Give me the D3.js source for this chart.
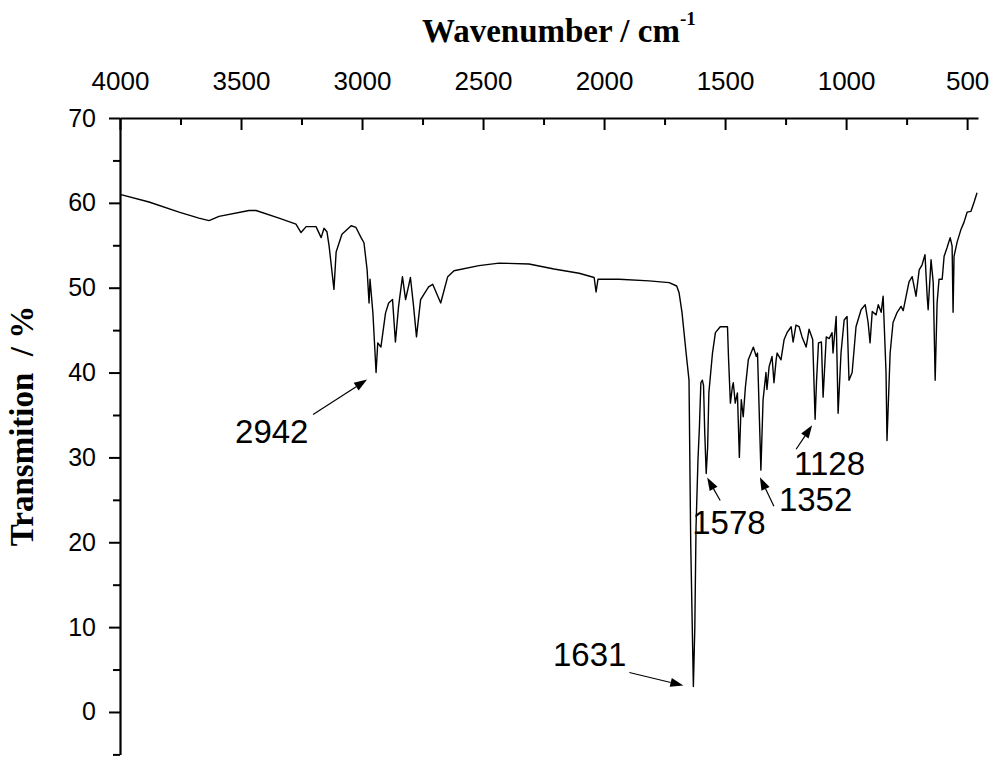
<!DOCTYPE html>
<html>
<head>
<meta charset="utf-8">
<script src="https://cdn.jsdelivr.net/npm/d3@7"></script>
<style>
  html, body { margin: 0; padding: 0; background: #fff; }
  svg { display: block; }
</style>
</head>
<body>
<svg id="chart" width="1000" height="764"></svg>
<script>
// ---- data ----
const wavenumbers = [
  4000, 3880, 3756, 3674, 3632, 3591, 3467, 3438, 3343, 3273, 3252, 3231, 3190, 3169, 3157, 3145, 3136, 3116, 3107, 3083,
  3045, 3025, 3004, 2992, 2979, 2971, 2967, 2955, 2942, 2935, 2922, 2903, 2890, 2874, 2862, 2849, 2833, 2820, 2800, 2787,
  2775, 2758, 2725, 2708, 2675, 2646, 2620, 2517, 2434, 2310, 2207, 2103, 2041, 2033, 2025, 1938, 1814, 1731, 1700, 1690,
  1678, 1661, 1649, 1642, 1631, 1625, 1620, 1612, 1606, 1600, 1594, 1589, 1584, 1578, 1572, 1567, 1552, 1540, 1520, 1490,
  1486, 1478, 1470, 1466, 1458, 1449, 1441, 1433, 1425, 1416, 1404, 1383, 1371, 1366, 1352, 1343, 1331, 1327, 1318, 1306,
  1298, 1289, 1285, 1269, 1256, 1244, 1227, 1219, 1207, 1194, 1182, 1165, 1153, 1138, 1128, 1122, 1114, 1102, 1095, 1082,
  1070, 1058, 1054, 1041, 1033, 1021, 1008, 996, 988, 975, 959, 938, 921, 909, 901, 892, 876, 867, 855, 847,
  835, 831, 818, 806, 789, 773, 764, 752, 740, 727, 711, 698, 686, 674, 665, 661, 649, 640, 632, 624,
  616, 603, 595, 583, 570, 562, 558, 554, 541, 525, 513, 500, 484, 471, 459
];
const transmission = [
  61.0, 60.1, 58.9, 58.2, 57.9, 58.4, 59.1, 59.1, 58.2, 57.5, 56.5, 57.2, 57.2, 55.9, 57.0, 56.6, 54.9, 49.8, 54.2, 56.3,
  57.3, 57.1, 55.9, 55.3, 52.1, 48.2, 51.0, 47.0, 40.0, 43.5, 43.0, 47.0, 48.2, 48.6, 43.6, 47.8, 51.3, 48.6, 51.2, 47.8,
  44.2, 48.6, 50.1, 50.4, 48.2, 51.3, 52.0, 52.6, 52.9, 52.8, 52.2, 51.7, 51.2, 49.5, 51.0, 51.0, 50.8, 50.6, 50.2, 49.4,
  47.1, 42.3, 39.1, 20.0, 3.0, 10.0, 21.8, 29.7, 33.6, 38.8, 39.1, 38.5, 32.9, 28.1, 31.2, 37.6, 42.3, 44.7, 45.4, 45.4,
  41.9, 36.4, 38.3, 38.8, 36.4, 37.6, 30.0, 36.8, 34.8, 38.3, 41.5, 43.0, 41.9, 42.3, 28.5, 36.8, 40.0, 38.0, 40.7, 41.9,
  38.8, 41.5, 42.3, 41.5, 43.9, 44.7, 45.4, 43.6, 45.6, 45.4, 44.2, 43.0, 45.1, 43.9, 34.5, 39.1, 43.5, 43.6, 37.1, 44.2,
  44.0, 44.7, 42.3, 46.6, 35.2, 42.3, 46.2, 46.6, 39.1, 40.0, 45.4, 47.4, 48.0, 45.9, 43.5, 47.2, 46.8, 48.0, 47.1, 49.0,
  40.0, 32.0, 42.3, 45.9, 47.1, 47.8, 47.3, 49.0, 50.7, 51.3, 49.0, 52.1, 52.7, 53.9, 49.0, 47.4, 53.3, 50.6, 39.1, 48.2,
  51.0, 51.0, 53.7, 54.7, 55.9, 54.9, 47.1, 53.7, 55.4, 56.9, 57.7, 58.9, 59.0, 60.1, 61.2
];
const xTickLabels = [4000, 3500, 3000, 2500, 2000, 1500, 1000, 500];
const xMinorTicks = [3750, 3250, 2750, 2250, 1750, 1250, 750];
const yTickLabels = [0, 10, 20, 30, 40, 50, 60, 70];
const yMinorTicks = [-5, 5, 15, 25, 35, 45, 55, 65];
const peakLabels = ["2942", "1631", "1578", "1352", "1128"];
const peakWavenumbers = [2942, 1631, 1578, 1352, 1128];
const peakValues = [40.0, 3.0, 28.1, 28.5, 34.5];

// ---- drawing ----
const svg = d3.select("#chart");
svg.append("rect").attr("width", 1000).attr("height", 764).attr("fill", "#fff");

const x = d3.scaleLinear().domain([4000, 455]).range([120, 978]);
const y = d3.scaleLinear().domain([-5, 70]).range([754.4, 118]);

const tickFont = "'Liberation Sans', Arial, sans-serif";
const serif = "'Liberation Serif', 'Times New Roman', serif";

// top axis (major)
const gTop = svg.append("g").attr("transform", `translate(0,${y(70)})`)
  .call(d3.axisTop(x).tickValues(xTickLabels).tickSizeInner(-12).tickSizeOuter(0).tickPadding(28).tickFormat(d3.format("d")));
gTop.select(".domain").attr("stroke", "#000").attr("stroke-width", 2.2);
gTop.selectAll(".tick line").attr("stroke", "#000").attr("stroke-width", 2);
gTop.selectAll(".tick text").attr("font-family", tickFont).attr("font-size", 26).attr("fill", "#000");
// top axis (minor)
const gTopMinor = svg.append("g").attr("transform", `translate(0,${y(70)})`)
  .call(d3.axisTop(x).tickValues(xMinorTicks).tickSizeInner(-7).tickSizeOuter(0).tickFormat(""));
gTopMinor.select(".domain").remove();
gTopMinor.selectAll(".tick line").attr("stroke", "#000").attr("stroke-width", 2);

// left axis (major)
const gLeft = svg.append("g").attr("transform", `translate(${x(4000)},0)`)
  .call(d3.axisLeft(y).tickValues(yTickLabels).tickSizeInner(11).tickSizeOuter(0).tickPadding(13));
gLeft.select(".domain").attr("stroke", "#000").attr("stroke-width", 2.2);
gLeft.selectAll(".tick line").attr("stroke", "#000").attr("stroke-width", 2);
gLeft.selectAll(".tick text").attr("font-family", tickFont).attr("font-size", 25).attr("fill", "#000");
// left axis (minor)
const gLeftMinor = svg.append("g").attr("transform", `translate(${x(4000)},0)`)
  .call(d3.axisLeft(y).tickValues(yMinorTicks).tickSizeInner(7).tickSizeOuter(0).tickFormat(""));
gLeftMinor.select(".domain").remove();
gLeftMinor.selectAll(".tick line").attr("stroke", "#000").attr("stroke-width", 2);

// spectrum
const pts = wavenumbers.map((w, i) => ({ w, t: transmission[i] }));
svg.append("path")
  .datum(pts)
  .attr("fill", "none")
  .attr("stroke", "#000")
  .attr("stroke-width", 1.4)
  .attr("stroke-linejoin", "round")
  .attr("d", d3.line().x(d => x(d.w)).y(d => y(d.t)));

// axis titles
const title = svg.append("text")
  .attr("x", 422).attr("y", 42)
  .attr("font-family", serif).attr("font-weight", "bold").attr("font-size", 33).attr("fill", "#000");
title.append("tspan").text("Wavenumber / cm");
title.append("tspan").attr("font-size", 19).attr("dy", -17).text("-1");

svg.append("text")
  .attr("transform", "translate(33,426) rotate(-90)")
  .attr("text-anchor", "middle")
  .attr("xml:space", "preserve")
  .style("white-space", "pre")
  .attr("font-family", serif).attr("font-weight", "bold").attr("font-size", 33).attr("fill", "#000")
  .text("Transmition  / %");

// annotations: pixel offsets from the marked point (tail, head, text)
const annLayout = [
  { tail: [-63, 42], head: [-9, 7], text: [-141, 70], anchor: "start" },
  { tail: [-64, -14], head: [-10, -1], text: [-67, -21], anchor: "end" },
  { tail: [14, 27], head: [1, 4], text: [-14, 60], anchor: "start" },
  { tail: [13, 36], head: [-1, 7], text: [18, 41], anchor: "start" },
  { tail: [-19, 30], head: [-3, 6], text: [-21, 56], anchor: "start" }
];
peakLabels.forEach((lab, i) => {
  const px = x(peakWavenumbers[i]), py = y(peakValues[i]);
  const L = annLayout[i];
  const tx = px + L.tail[0], ty = py + L.tail[1];
  const hx = px + L.head[0], hy = py + L.head[1];
  const ang = Math.atan2(hy - ty, hx - tx);
  const len = 13, half = 4.5;
  const bx = hx - len * Math.cos(ang), by = hy - len * Math.sin(ang);
  svg.append("line")
    .attr("x1", tx).attr("y1", ty).attr("x2", bx).attr("y2", by)
    .attr("stroke", "#000").attr("stroke-width", 1.2);
  const p1 = [bx + half * Math.sin(ang), by - half * Math.cos(ang)];
  const p2 = [bx - half * Math.sin(ang), by + half * Math.cos(ang)];
  svg.append("path")
    .attr("d", `M${hx},${hy}L${p1[0]},${p1[1]}L${p2[0]},${p2[1]}Z`)
    .attr("fill", "#000");
  svg.append("text")
    .attr("x", px + L.text[0]).attr("y", py + L.text[1])
    .attr("text-anchor", L.anchor)
    .attr("font-family", tickFont).attr("font-size", 33).attr("fill", "#000")
    .text(lab);
});
</script>
</body>
</html>
